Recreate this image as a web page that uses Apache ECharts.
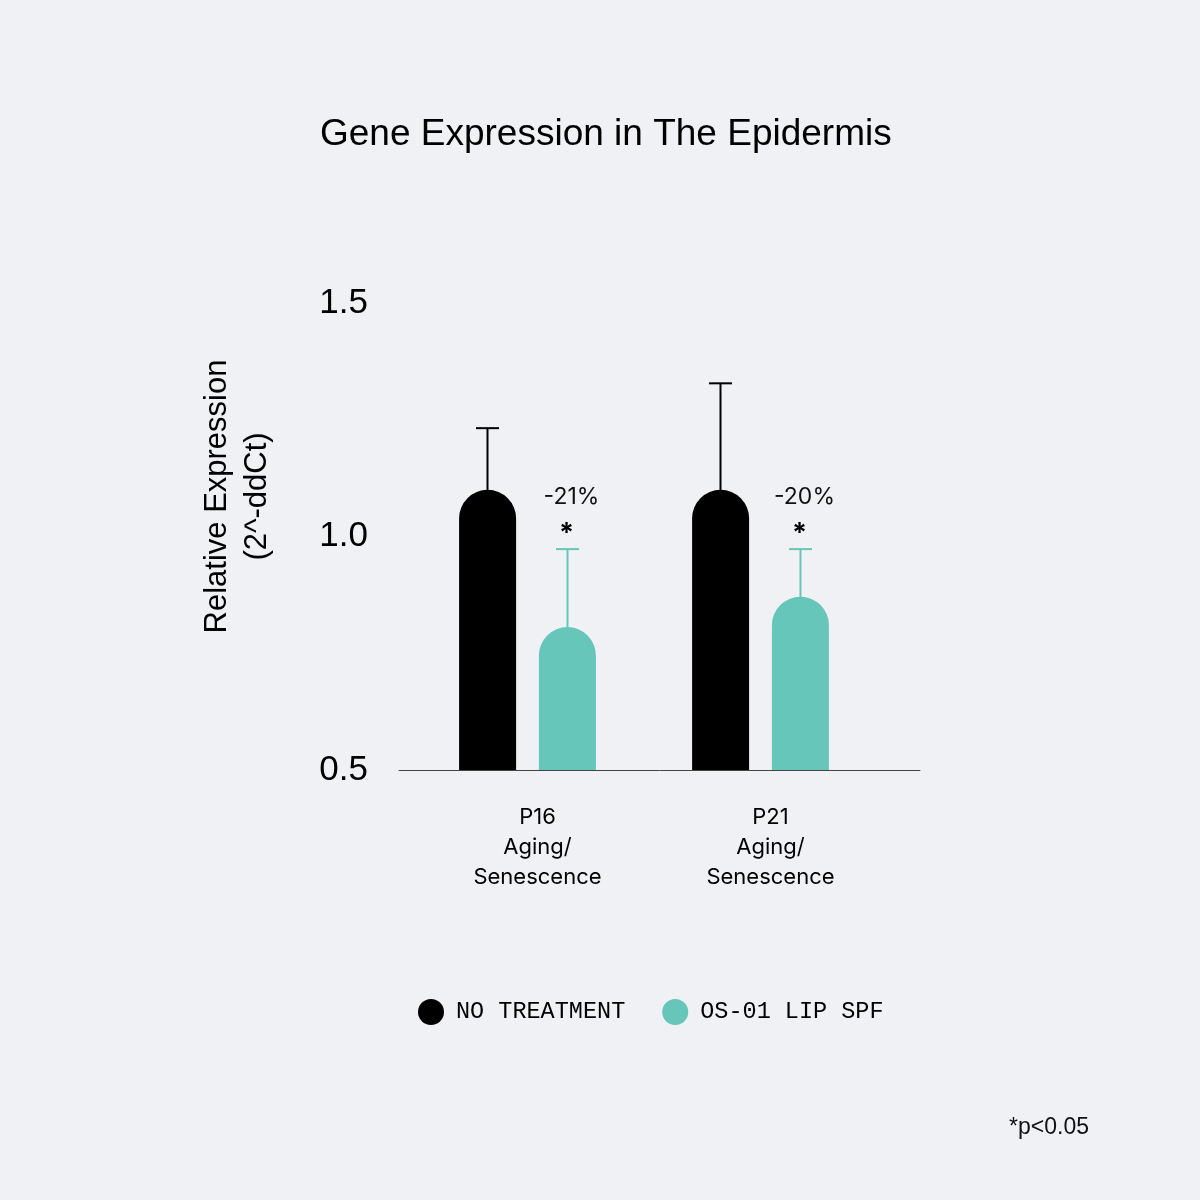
<!DOCTYPE html>
<html>
<head>
<meta charset="utf-8">
<script src="https://cdn.jsdelivr.net/npm/echarts@6/dist/echarts.min.js"></script>
<style>
  html, body { margin: 0; padding: 0; background: #f0f1f5; }
  #container { width: 1200px; height: 1200px; }
</style>
</head>
<body>
<div id="container"></div>
<script>
var dom = document.getElementById('container');
var myChart = echarts.init(dom);

var categories = ['P16\nAging/\nSenescence', 'P21\nAging/\nSenescence'];
var seriesNames = ['NO TREATMENT', 'OS-01 LIP SPF'];
var noTreatment = [1.10, 1.10];
var noTreatmentErr = [1.232, 1.328];
var lipSpf = [0.806, 0.871];
var lipSpfErr = [0.973, 0.973];
var changeLabels = ['-21%', '-20%'];
var sigMarks = ['*', '*'];
var yTicks = [0.5, 1.0, 1.5];

var BLACK = '#000000';
var TEAL = '#66c6b9';
var BAR_W = 57;
var OFFSET = 40;

function errorSeries(name, values, errs, color, side, withText) {
  return {
    name: name + ' err',
    type: 'custom',
    xAxisIndex: 0,
    yAxisIndex: 0,
    silent: true,
    z: 5,
    data: values.map(function (v, i) { return [i, v, errs[i]]; }),
    renderItem: function (params, api) {
      var i = api.value(0);
      var top = api.coord([i, api.value(1)]);
      var hi = api.coord([i, api.value(2)]);
      var x = top[0] + side * OFFSET;
      var children = [
        { type: 'line', shape: { x1: x, y1: top[1] + 2, x2: x, y2: hi[1] },
          style: { stroke: color, lineWidth: 2 } },
        { type: 'line', shape: { x1: x - 11.5, y1: hi[1], x2: x + 11.5, y2: hi[1] },
          style: { stroke: color, lineWidth: 2 } }
      ];
      if (withText) {
        children.push({ type: 'text', x: x + 4, y: hi[1] - 52,
          style: { text: changeLabels[i], fill: '#111', font: '23px Inter',
                   align: 'center', verticalAlign: 'middle' } });
        children.push({ type: 'text', x: x - 1, y: hi[1] - 15,
          style: { text: sigMarks[i], fill: '#000', font: 'bold 27px Inter',
                   align: 'center', verticalAlign: 'middle' } });
      }
      return { type: 'group', children: children };
    }
  };
}

var option = {
  backgroundColor: '#f0f1f5',
  animation: false,
  title: [{
    text: 'Gene Expression in The Epidermis',
    left: 315,
    top: 111,
    textStyle: { fontFamily: 'Liberation Sans', fontSize: 37, fontWeight: 'normal', color: '#000' }
  }, {
    text: '*p<0.05',
    right: 106,
    top: 1111,
    textStyle: { fontFamily: 'Liberation Sans', fontSize: 23, fontWeight: 'normal', color: '#111' }
  }],
  legend: {
    data: seriesNames,
    left: 413,
    top: 994,
    icon: 'circle',
    itemWidth: 26,
    itemHeight: 26,
    itemGap: 37,
    textStyle: { fontFamily: 'Liberation Mono', fontSize: 23.5, color: '#000', padding: [0, 0, 0, 7] }
  },
  grid: [
    { left: 411, right: 323, top: 303, bottom: 430 },
    { left: 399, right: 280, top: 303, bottom: 430 }
  ],
  xAxis: [{
    type: 'category',
    gridIndex: 0,
    data: categories,
    axisLine: { show: false },
    axisTick: { show: false },
    axisLabel: {
      margin: 32,
      fontFamily: 'Inter',
      fontSize: 22,
      lineHeight: 30,
      color: '#000',
      padding: [0, 0, 0, 20]
    }
  }, {
    type: 'value',
    gridIndex: 1,
    axisLine: { show: true, lineStyle: { color: '#444', width: 1 } },
    axisTick: { show: false },
    axisLabel: { show: false },
    splitLine: { show: false }
  }],
  yAxis: [{
    type: 'value',
    gridIndex: 0,
    min: yTicks[0],
    max: yTicks[yTicks.length - 1],
    interval: 0.5,
    axisLine: { show: false },
    axisTick: { show: false },
    splitLine: { show: false },
    axisLabel: {
      margin: 43,
      fontFamily: 'Liberation Sans',
      fontSize: 35,
      color: '#000',
      formatter: function (v) { return v.toFixed(1); }
    },
    name: 'Relative Expression\n(2^-ddCt)',
    nameLocation: 'middle',
    nameRotate: 90,
    nameGap: 134,
    nameTextStyle: { fontFamily: 'Liberation Sans', fontSize: 31, lineHeight: 40, color: '#000',
                     padding: [0, 0, 0, 80] }
  }, {
    type: 'value',
    gridIndex: 1,
    show: false
  }],
  series: [{
    name: seriesNames[0],
    type: 'bar',
    xAxisIndex: 0,
    yAxisIndex: 0,
    data: noTreatment,
    barWidth: BAR_W,
    barGap: '40%',
    itemStyle: { color: BLACK, borderRadius: [28.5, 28.5, 0, 0] }
  }, {
    name: seriesNames[1],
    type: 'bar',
    xAxisIndex: 0,
    yAxisIndex: 0,
    data: lipSpf,
    barWidth: BAR_W,
    barGap: '40%',
    itemStyle: { color: TEAL, borderRadius: [28.5, 28.5, 0, 0] }
  },
  errorSeries(seriesNames[0], noTreatment, noTreatmentErr, BLACK, -1, false),
  errorSeries(seriesNames[1], lipSpf, lipSpfErr, TEAL, 1, true)
  ]
};

myChart.setOption(option);
</script>
</body>
</html>
